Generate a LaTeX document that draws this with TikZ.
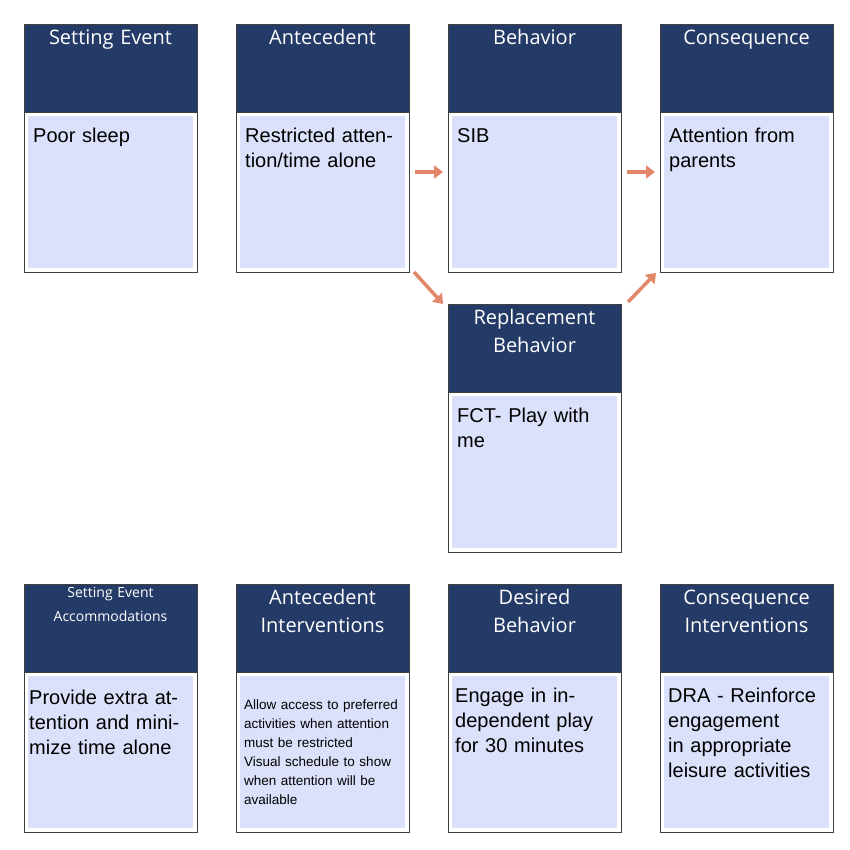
\documentclass[tikz,border=0pt]{standalone}
\usepackage{fontspec}
\setmainfont{Liberation Sans}
\newfontfamily\hdf{Open Sans}
\definecolor{hdr}{HTML}{253B67}
\definecolor{bodyc}{HTML}{DCE1FB}
\definecolor{arr}{HTML}{E2876A}
\tikzset{
 outer/.style={draw=black!75,line width=0.9pt,fill=white},
 head/.style={fill=hdr,draw=black!75,line width=0.9pt},
 inner/.style={fill=bodyc},
 htxt/.style={text=white,font=\hdf\fontsize{20}{30}\selectfont,align=center,text width=170pt},
 btxt/.style={anchor=north west,align=left,font=\fontsize{20}{25}\selectfont,text width=160pt,inner sep=0pt},
 ar/.style={draw=arr,line width=3.5pt,-{Triangle[length=9pt,width=13pt]}}
}
\usetikzlibrary{arrows.meta}
% #1 name #2 x #3 ytop #4 header #5 body #6 header style #7 body style
\newcommand{\fabox}[7]{%
 \draw[outer] (#2,#3+88) rectangle (#2+173,#3+248);
 \fill[inner] (#2+4,#3+92) rectangle (#2+169,#3+244);
 \draw[head] (#2,#3) rectangle (#2+173,#3+88);
 \coordinate (#1) at (#2,#3);
 \coordinate (#1-tl) at (#2,#3);
 \coordinate (#1-tr) at (#2+173,#3);
 \coordinate (#1-bl) at (#2,#3+248);
 \coordinate (#1-br) at (#2+173,#3+248);
 \node[htxt,anchor=north,#6] (#1-h) at (#2+86.5,#3+2) {#4};
 \node[btxt,#7] (#1-b) at (#2+9,#3+104) {#5};
}
\begin{document}
\begin{tikzpicture}[x=1pt,y=-1pt]
\fill[white] (0,0) rectangle (850,850);
\useasboundingbox (0,0) rectangle (850,850);
\fabox{se}{24}{24}{Setting Event}{Poor sleep}{}{}
\fabox{an}{236}{24}{Antecedent}{Restricted attention/time alone}{}{}
\fabox{be}{448}{24}{Behavior}{SIB}{}{}
\fabox{co}{660}{24}{Consequence}{Attention from parents}{}{}
\fabox{rb}{448}{304}{Replacement\\[-2pt]Behavior}{FCT- Play with me}{}{}
\fabox{sa}{24}{584}{Setting Event\\Accommodations}{Provide extra attention and minimize time alone}{font=\hdf\fontsize{14}{24}\selectfont,yshift=2pt}{xshift=-4pt,yshift=-2pt,text width=165pt}
\fabox{ai}{236}{584}{Antecedent\\[-2pt]Interventions}{Allow access to preferred activities when attention must be restricted\\Visual schedule to show when attention will be available}{}{font=\fontsize{13.5}{19}\selectfont,xshift=-1pt,yshift=-12pt,text width=158pt}
\fabox{db}{448}{584}{Desired\\[-2pt]Behavior}{Engage in independent play for 30 minutes}{}{xshift=-2pt,text width=140pt}
\fabox{ci}{660}{584}{Consequence\\[-2pt]Interventions}{DRA - Reinforce engagement in appropriate leisure activities}{}{xshift=-1pt,text width=165pt}
\coordinate (a1s) at (415,172); \coordinate (a1e) at (443,172);
\coordinate (a2s) at (627,172); \coordinate (a2e) at (655,172);
\coordinate (a3s) at (414,272); \coordinate (a3e) at (443,304);
\coordinate (a4s) at (628,302); \coordinate (a4e) at (656,273);
\draw[ar] (a1s) -- (a1e);
\draw[ar] (a2s) -- (a2e);
\draw[ar] (a3s) -- (a3e);
\draw[ar] (a4s) -- (a4e);
\end{tikzpicture}
\end{document}
